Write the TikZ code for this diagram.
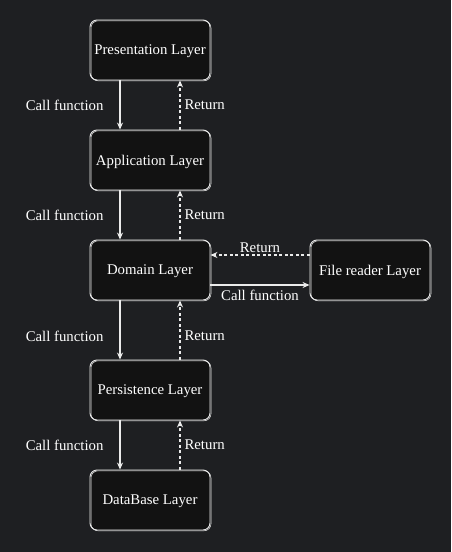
\documentclass[tikz,border=0pt]{standalone}
\usepackage{fontspec}
\setmainfont{Liberation Serif}
\usepackage{xcolor}
\usepackage{tikz}
\usetikzlibrary{arrows, arrows.meta}
\usetikzlibrary{positioning}
\usetikzlibrary{calc}

\definecolor{canvas}{HTML}{1E1F22}
\definecolor{boxfill}{HTML}{121212}
\definecolor{inkline}{HTML}{EBEBEB}

\tikzset{
	layerbox/.style={fill=boxfill, draw=inkline, line width=0.9pt, rounded corners=7pt,
		minimum width=120pt, minimum height=60pt, text=white, text depth=0pt, font=\fontsize{14.8}{17}\selectfont,
		postaction={draw=inkline, line width=0.5pt, rounded corners=6pt, transform canvas={shift={(1pt,-0.8pt)}}}},
	callarrow/.style={draw=inkline, line width=1.1pt, -{Stealth[length=7pt, width=6pt]}},
	returnarrow/.style={draw=inkline, line width=1.1pt, dashed, dash pattern=on 3pt off 2.5pt, -{Stealth[length=7pt, width=6pt]}},
	calllabel/.style={text=white, font=\fontsize{14.8}{17}\selectfont, inner sep=0pt},
	returnlabel/.style={text=white, font=\fontsize{14.8}{17}\selectfont, inner sep=0pt}
}

\begin{document}
\begin{tikzpicture}[x=1pt, y=-1pt]
	\fill[canvas] (0,0) rectangle (451,552);
	\useasboundingbox (0,0) rectangle (451,552);
	% layers
	\foreach \name/\y/\txt in {pres/50/Presentation Layer, app/160/Application Layer, dom/270/Domain Layer, pers/390/Persistence Layer, db/500/DataBase Layer}
	{
		\node[layerbox] (\name) at (150,\y) {\txt};
	}
	\node[layerbox] (file) at (370,270) {File reader Layer};
	% calls and returns
	\foreach \upper/\lower/\p in {pres/app/0.5, app/dom/0.5, dom/pers/0.6, pers/db/0.5}
	{
		\draw[callarrow] ([xshift=-30pt]\upper.south) -- node[calllabel, pos=\p, left=16pt]{Call function} ([xshift=-30pt]\lower.north);
		\draw[returnarrow] ([xshift=30pt]\lower.north) -- node[returnlabel, pos=1-\p, right=4pt]{Return} ([xshift=30pt]\upper.south);
	}
	\draw[returnarrow] ([yshift=15pt]file.west) -- node[returnlabel, above=2pt]{Return} ([yshift=15pt]dom.east);
	\draw[callarrow] ([yshift=-15pt]dom.east) -- node[calllabel, below=5pt]{Call function} ([yshift=-15pt]file.west);
\end{tikzpicture}
\end{document}
